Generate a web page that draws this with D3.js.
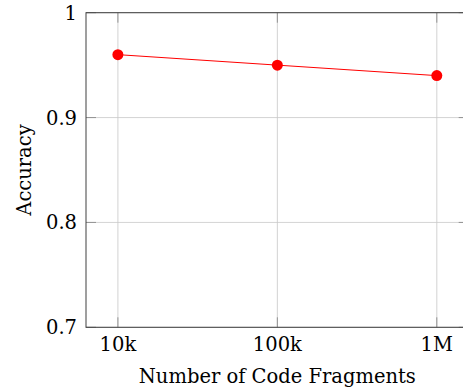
<!DOCTYPE html>
<html>
<head>
<meta charset="utf-8">
<script src="https://cdn.jsdelivr.net/npm/d3@7"></script>
<style>
  body { margin: 0; background: #fff; }
  svg { display: block; }
  text { font-family: "DejaVu Serif", serif; fill: #000; }
</style>
</head>
<body>
<script>
// Chart data
const fragments = [1e4, 1e5, 1e6];
const fragmentLabels = ["10k", "100k", "1M"];
const accuracy = [0.96, 0.95, 0.94];
const yTicks = [0.7, 0.8, 0.9, 1];

(function() {
  const W = 463, H = 392;
  const plotLeft = 86, plotRight = 468.7, plotTop = 12.7, plotBottom = 327.3;
  const fontSize = "19.5px";

  const svg = d3.select("body").append("svg")
    .attr("width", W)
    .attr("height", H);

  // log x axis with pgfplots-like 10% enlargement
  const x = d3.scaleLog()
    .domain([Math.pow(10, 3.8), Math.pow(10, 6.2)])
    .range([plotLeft, plotRight]);

  const y = d3.scaleLinear()
    .domain([0.7, 1])
    .range([plotBottom, plotTop]);

  // grid lines
  svg.append("g")
    .selectAll("line")
    .data(fragments)
    .join("line")
    .attr("x1", d => x(d)).attr("x2", d => x(d))
    .attr("y1", plotTop).attr("y2", plotBottom)
    .attr("stroke", "#c8c8c8")
    .attr("stroke-width", 0.8);

  svg.append("g")
    .selectAll("line")
    .data(yTicks)
    .join("line")
    .attr("x1", plotLeft).attr("x2", plotRight)
    .attr("y1", d => y(d)).attr("y2", d => y(d))
    .attr("stroke", "#c8c8c8")
    .attr("stroke-width", 0.8);

  // inward ticks on all four sides
  const tickLen = 10;
  const ticks = svg.append("g").attr("stroke", "#808080").attr("stroke-width", 0.8);
  fragments.forEach(d => {
    ticks.append("line").attr("x1", x(d)).attr("x2", x(d)).attr("y1", plotBottom).attr("y2", plotBottom - tickLen);
    ticks.append("line").attr("x1", x(d)).attr("x2", x(d)).attr("y1", plotTop).attr("y2", plotTop + tickLen);
  });
  yTicks.forEach(d => {
    ticks.append("line").attr("x1", plotLeft).attr("x2", plotLeft + tickLen).attr("y1", y(d)).attr("y2", y(d));
    ticks.append("line").attr("x1", plotRight).attr("x2", plotRight - tickLen).attr("y1", y(d)).attr("y2", y(d));
  });

  // frame
  svg.append("rect")
    .attr("x", plotLeft).attr("y", plotTop)
    .attr("width", plotRight - plotLeft).attr("height", plotBottom - plotTop)
    .attr("fill", "none")
    .attr("stroke", "#404040")
    .attr("stroke-width", 1);

  // tick labels
  svg.append("g")
    .selectAll("text")
    .data(yTicks)
    .join("text")
    .attr("x", plotLeft - 9)
    .attr("y", d => y(d))
    .attr("dy", "0.36em")
    .attr("text-anchor", "end")
    .style("font-size", fontSize)
    .text(d => d3.format("~g")(d));

  svg.append("g")
    .selectAll("text")
    .data(fragments)
    .join("text")
    .attr("x", d => x(d))
    .attr("y", 351)
    .attr("text-anchor", "middle")
    .style("font-size", fontSize)
    .text((d, i) => fragmentLabels[i]);

  // axis labels
  svg.append("text")
    .attr("x", (plotLeft + plotRight) / 2)
    .attr("y", 383)
    .attr("text-anchor", "middle")
    .style("font-size", fontSize)
    .text("Number of Code Fragments");

  svg.append("text")
    .attr("transform", `translate(31, ${(plotTop + plotBottom) / 2}) rotate(-90)`)
    .attr("text-anchor", "middle")
    .style("font-size", fontSize)
    .text("Accuracy");

  // series
  const pts = fragments.map((f, i) => ({ f: f, a: accuracy[i] }));

  svg.append("path")
    .datum(pts)
    .attr("fill", "none")
    .attr("stroke", "#ff0000")
    .attr("stroke-width", 1)
    .attr("d", d3.line().x(d => x(d.f)).y(d => y(d.a)));

  svg.append("g")
    .selectAll("circle")
    .data(pts)
    .join("circle")
    .attr("cx", d => x(d.f))
    .attr("cy", d => y(d.a))
    .attr("r", 5.5)
    .attr("fill", "#ff0000");
})();
</script>
</body>
</html>
